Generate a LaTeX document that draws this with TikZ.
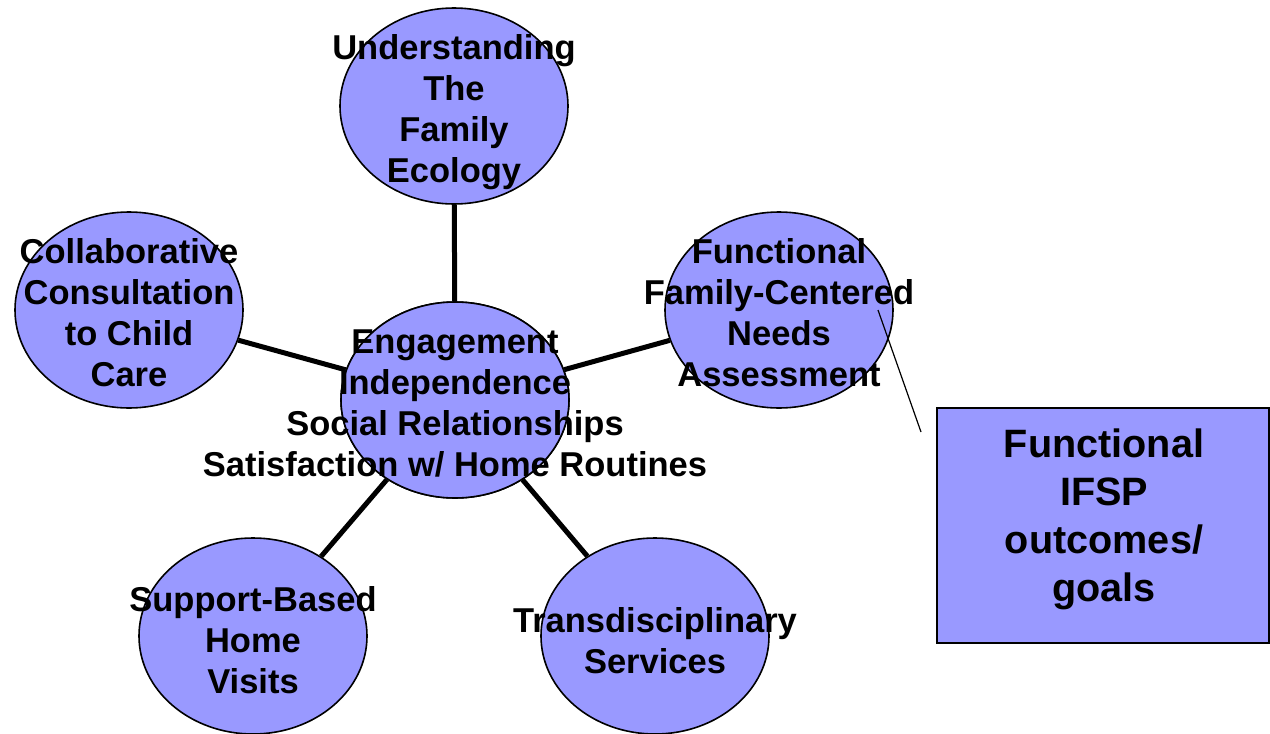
\documentclass[tikz,border=0pt]{standalone}
\usepackage{fontspec}
\setmainfont{Liberation Sans}
\usetikzlibrary{shapes.geometric}
\definecolor{bubble}{HTML}{9999FF}
\begin{document}
\begin{tikzpicture}[x=1pt,y=-1pt,
  bub/.style={ellipse, draw=black, line width=1.6pt, fill=bubble,
    minimum width=228pt, minimum height=196pt, inner sep=0pt},
  lbl/.style={align=center, font=\fontsize{34.5}{41}\selectfont\bfseries, inner sep=0pt},
  boxlbl/.style={align=center, font=\fontsize{39.6}{48}\selectfont\bfseries, inner sep=0pt},
  goalbox/.style={rectangle, draw=black, line width=1.8pt, fill=bubble,
    minimum width=332pt, minimum height=235pt, inner sep=0pt},
  spoke/.style={line width=5pt},
  pointer/.style={line width=1.2pt}]
\useasboundingbox (0,0) rectangle (1270,734);
% bubbles
\node[bub] (top) at (454,106) {};
\node[bub] (left) at (129,310) {};
\node[bub] (right) at (779,310) {};
\node[bub] (bl) at (253,636) {};
\node[bub] (br) at (655,636) {};
\node[bub] (ctr) at (455,400) {};
\node[goalbox] (goal) at (1103,525.5) {};
% spokes
\draw[spoke] (ctr) -- (top);
\draw[spoke] (ctr) -- (left);
\draw[spoke] (ctr) -- (right);
\draw[spoke] (ctr) -- (bl);
\draw[spoke] (ctr) -- (br);
\node[bub] at (ctr) {};
% pointer
\coordinate (pa) at (878,310);
\coordinate (pb) at (921,432);
\draw[pointer] (pa) -- (pb);
% labels
\node[lbl] (ttop) at (454,112) {Understanding\\The\\Family\\Ecology};
\node[lbl] (tleft) at (129,312.5) {Collaborative\\Consultation\\to Child\\Care};
\node[lbl] (tright) at (779,312.5) {Functional\\Family-Centered\\Needs\\Assessment};
\node[lbl] (tctr) at (455,403) {Engagement\\Independence\\Social Relationships\\Satisfaction w/ Home Routines};
\node[lbl] (tbl) at (253,640) {Support-Based\\Home\\Visits};
\node[lbl] (tbr) at (655,640.5) {Transdisciplinary\\Services};
\node[boxlbl] (tgoal) at (1104,519) {Functional\\IFSP\\outcomes/\\goals};
\end{tikzpicture}
\end{document}
